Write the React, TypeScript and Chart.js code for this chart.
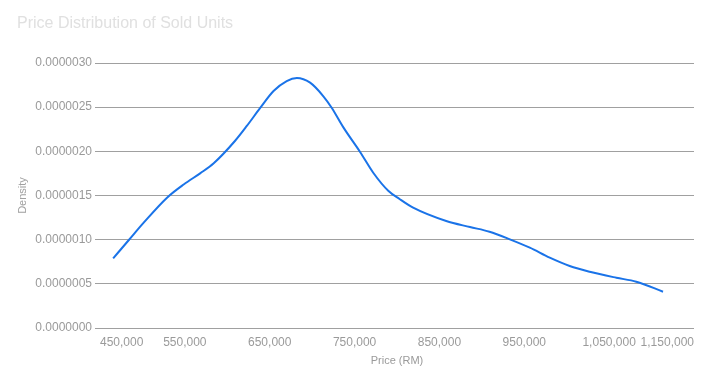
import React, { useEffect, useRef } from "react";
import { Chart, registerables } from "chart.js";

Chart.register(...registerables);

const titleText = "Price Distribution of Sold Units";
const xTitle = "Price (RM)";
const yTitle = "Density";

const prices = [
  465500, 484000, 501500, 529000, 549000, 568000, 584000, 609000, 623000, 639000,
  654500, 670000, 682000, 697600, 713000, 723000, 737000, 756500, 772000, 790000,
  803000, 819000, 858000, 886000, 909000, 933000, 956500, 980000, 1003500, 1027000,
  1058500, 1082000, 1113500,
];
const densities = [
  0.789e-6, 0.996e-6, 1.192e-6, 1.475e-6, 1.627e-6, 1.751e-6, 1.865e-6, 2.117e-6, 2.287e-6, 2.494e-6,
  2.683e-6, 2.796e-6, 2.83e-6, 2.777e-6, 2.626e-6, 2.494e-6, 2.268e-6, 1.993e-6, 1.758e-6, 1.551e-6,
  1.46e-6, 1.362e-6, 1.211e-6, 1.143e-6, 1.09e-6, 1.004e-6, 0.909e-6, 0.796e-6, 0.702e-6, 0.637e-6,
  0.569e-6, 0.524e-6, 0.411e-6,
];

const xMin = 450000;
const xMax = 1150000;
const xStep = 100000;
const yMin = 0;
const yMax = 3e-6;
const yStep = 0.5e-6;

export default function App() {
  const ref = useRef<HTMLCanvasElement | null>(null);
  useEffect(() => {
    if (!ref.current) return;
    Chart.defaults.font.family = "Arial, 'Liberation Sans', sans-serif";
    const chart = new Chart(ref.current, {
      type: "line",
      data: {
        datasets: [
          {
            data: prices.map((p, i) => ({ x: p, y: densities[i] })),
            borderColor: "#1a73e8",
            borderWidth: 2,
            pointRadius: 0,
            fill: false,
            cubicInterpolationMode: "monotone",
          },
        ],
      },
      options: {
        animation: false,
        responsive: true,
        maintainAspectRatio: false,
        layout: { padding: { left: 17, right: 15, top: 0, bottom: 0 } },
        plugins: {
          legend: { display: false },
          tooltip: { enabled: false },
          title: {
            display: true,
            text: titleText,
            align: "start",
            color: "#e0e0e0",
            font: { size: 16, weight: "normal" },
            padding: { top: 14.4, bottom: 29.4 },
          },
        },
        scales: {
          x: {
            type: "linear",
            min: xMin,
            max: xMax,
            grid: { display: false, tickLength: 0, drawTicks: false },
            border: { display: false },
            ticks: {
              stepSize: xStep,
              align: "inner",
              maxRotation: 0,
              autoSkip: false,
              padding: 7,
              color: "#9a9a9a",
              font: { size: 12 },
              callback: (v: any) => Number(v).toLocaleString("en-US"),
            },
            title: {
              display: true,
              text: xTitle,
              color: "#9a9a9a",
              font: { size: 11 },
              padding: { top: 0, bottom: 12.4 },
            },
            afterFit: (axis: any) => {
              axis.height = 52;
            },
          },
          y: {
            min: yMin,
            max: yMax,
            grid: { color: "#a0a0a0", tickLength: 5, lineWidth: 1 },
            border: { display: false },
            ticks: {
              stepSize: yStep,
              padding: 3,
              color: "#9a9a9a",
              font: { size: 12 },
              callback: (v: any) => Number(v).toFixed(7),
            },
            title: {
              display: true,
              text: yTitle,
              color: "#a0a0a0",
              font: { size: 11 },
              padding: { top: -1, bottom: 0 },
            },
            afterFit: (axis: any) => {
              axis.width = 83;
            },
          },
        },
      },
    } as any);
    return () => chart.destroy();
  }, []);
  return (
    <div style={{ position: "absolute", left: 0, top: 0, width: 709, height: 380, background: "#fff" }}>
      <canvas ref={ref} />
    </div>
  );
}
